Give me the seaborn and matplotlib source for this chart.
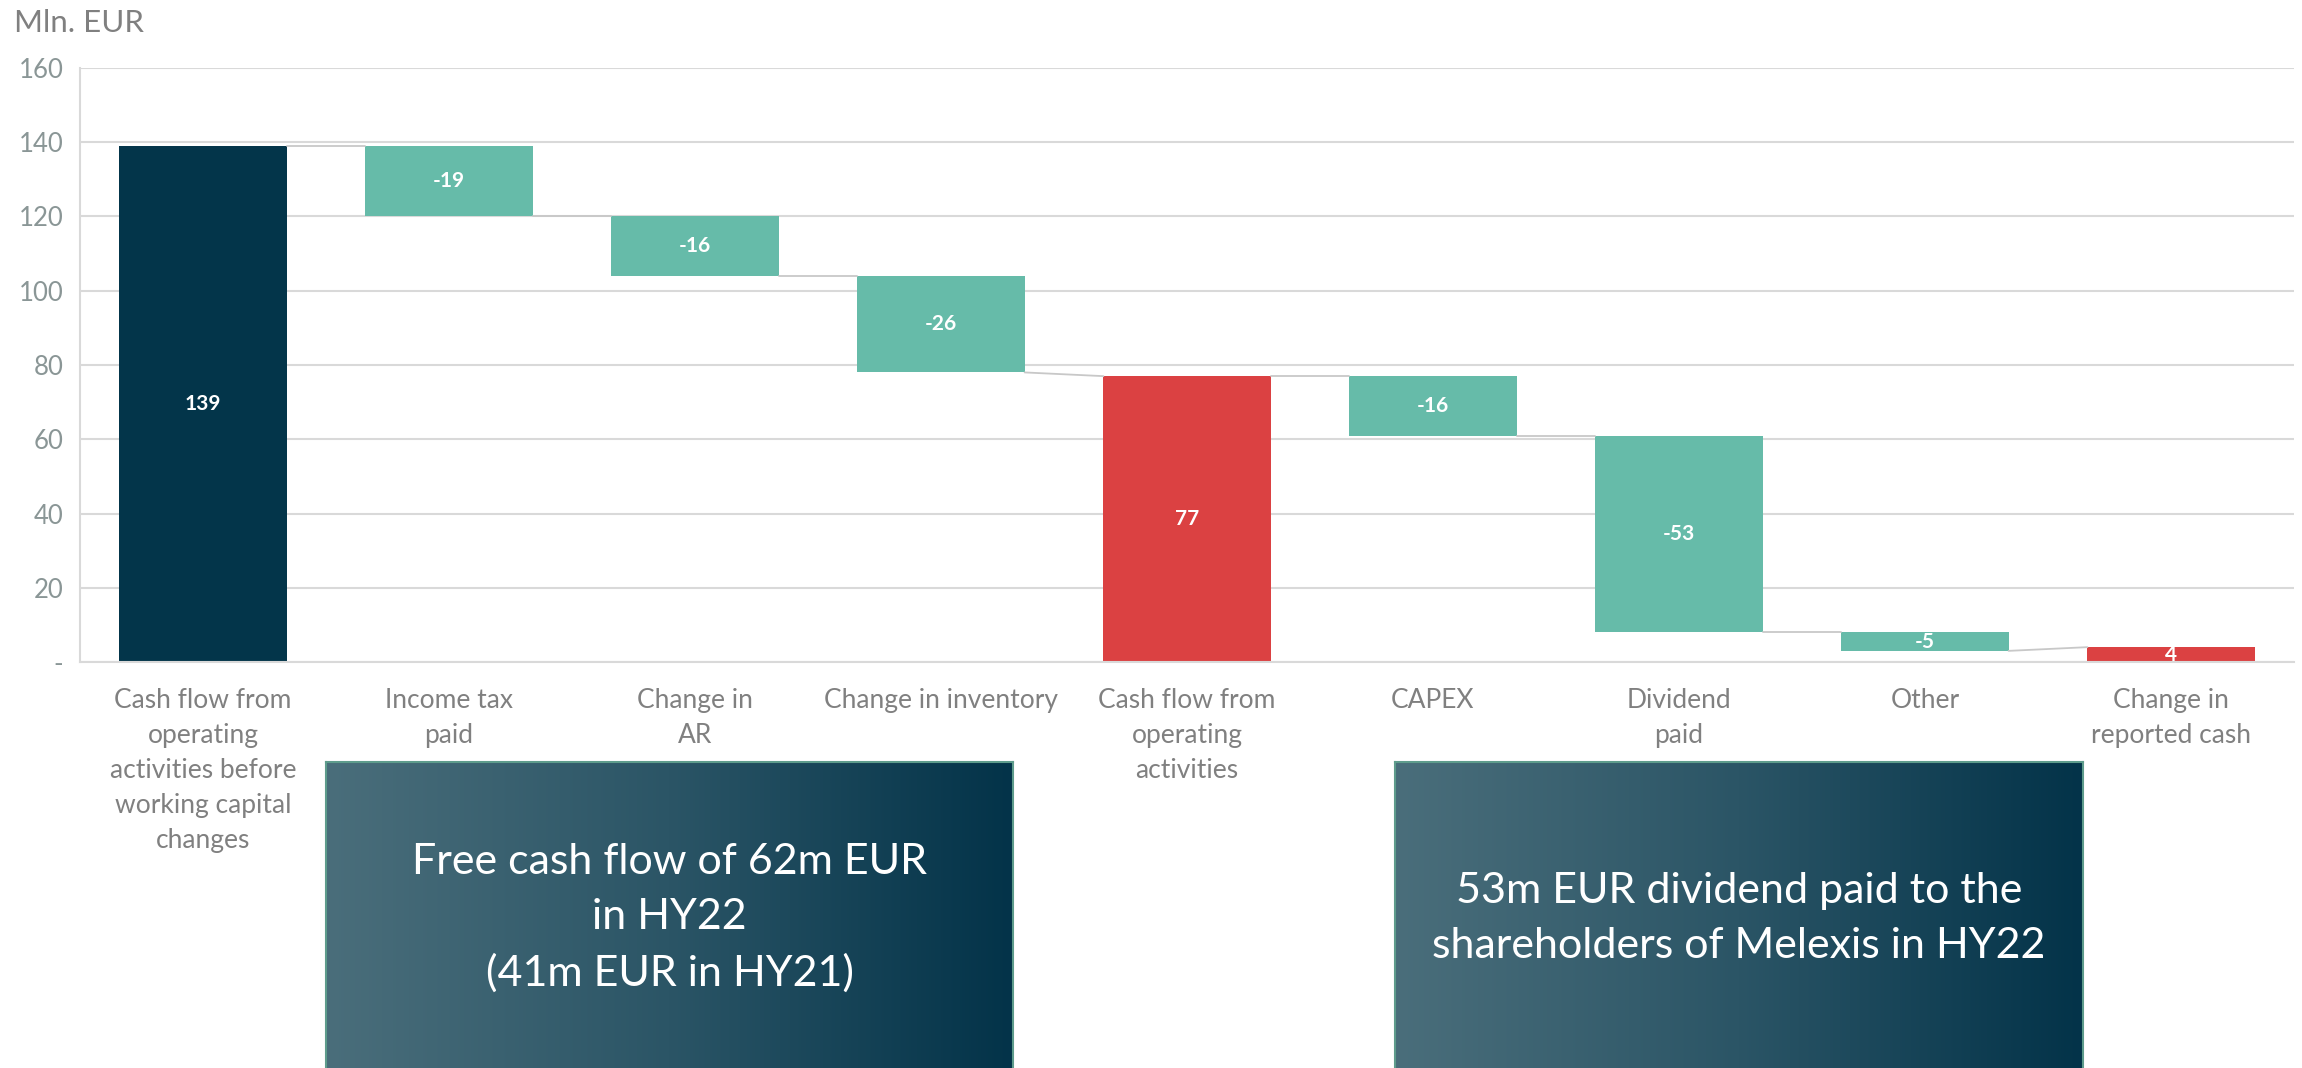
import numpy as np
import pandas as pd
import matplotlib
matplotlib.use("Agg")
import matplotlib.pyplot as plt
from matplotlib.colors import LinearSegmentedColormap
import seaborn as sns

# Cash-flow bridge, Mln. EUR
categories = [
    "Cash flow from\noperating\nactivities before\nworking capital\nchanges",
    "Income tax\npaid",
    "Change in\nAR",
    "Change in inventory",
    "Cash flow from\noperating\nactivities",
    "CAPEX",
    "Dividend\npaid",
    "Other",
    "Change in\nreported cash",
]
values = [139, -19, -16, -26, 77, -16, -53, -5, 4]
kinds = ["start", "step", "step", "step", "subtotal", "step", "step", "step", "subtotal"]
y_ticks = [0, 20, 40, 60, 80, 100, 120, 140, 160]
y_tick_labels = ["-", "20", "40", "60", "80", "100", "120", "140", "160"]

note_left = "Free cash flow of 62m EUR\nin HY22\n(41m EUR in HY21)"
note_right = "53m EUR dividend paid to the\nshareholders of Melexis in HY22"

kind_colors = {"start": "#03354A", "step": "#66BBA9", "subtotal": "#DB4142"}
grid_color = "#D9D9D9"
label_grey = "#808080"

sns.set_style("white")
plt.rcParams["font.family"] = ["Lato", "DejaVu Sans"]

# waterfall geometry: floating bars for steps, grounded bars for totals
bottoms, tops, starts, ends = [], [], [], []
level = 0
for v, k in zip(values, kinds):
    if k == "step":
        lo, hi = min(level, level + v), max(level, level + v)
        starts.append(level)
        level = level + v
    else:
        lo, hi = 0, v
        starts.append(v)
        level = v
    bottoms.append(lo)
    tops.append(hi)
    ends.append(level)

df = pd.DataFrame({
    "item": categories,
    "size": [t - b for t, b in zip(tops, bottoms)],
})
palette = [kind_colors[k] for k in kinds]

fig = plt.figure(figsize=(23.02, 10.68), dpi=100)
ax = fig.add_axes([80 / 2302, 1 - 662 / 1068, (2294 - 80) / 2302, (662 - 68) / 1068])

bar_w = 0.68
sns.barplot(data=df, x="item", y="size", hue="item", palette=palette,
            legend=False, width=bar_w, saturation=1, linewidth=0, ax=ax)

for patch, b in zip(ax.patches, bottoms):
    h = patch.get_height()
    patch.set_y(b)
    patch.set_height(h)

# connectors between consecutive bars
for i in range(len(values) - 1):
    ax.plot([i + bar_w / 2, i + 1 - bar_w / 2], [ends[i], starts[i + 1]],
            color="#C8C8C8", lw=1.3, zorder=1)

# value labels inside the bars
for i, (v, b, t) in enumerate(zip(values, bottoms, tops)):
    ax.text(i, (b + t) / 2, str(v), ha="center", va="center",
            color="white", fontsize=15, fontweight="bold", zorder=5)

ax.set_xlim(-0.5, len(values) - 0.5)
ax.set_ylim(0, 160)
ax.set_yticks(y_ticks)
ax.set_yticklabels(y_tick_labels)
ax.set_xlabel("")
ax.set_ylabel("")
ax.yaxis.grid(True, color=grid_color, lw=1.5)
ax.set_axisbelow(True)
for s in ["top", "right"]:
    ax.spines[s].set_visible(False)
for s in ["left", "bottom"]:
    ax.spines[s].set_color(grid_color)
    ax.spines[s].set_linewidth(1.5)
ax.tick_params(axis="y", length=0, pad=12, labelsize=18.5, labelcolor="#8A9696")
ax.tick_params(axis="x", length=0, pad=19, labelsize=19, labelcolor=label_grey)
for lab in ax.get_xticklabels():
    lab.set_linespacing(1.5)

fig.text(14 / 2302, 1 - 32 / 1068, "Mln. EUR", ha="left", va="baseline",
         fontsize=22.5, color=label_grey)

# gradient callout boxes below the chart
box_cmap = LinearSegmentedColormap.from_list("box", ["#4A6E7B", "#2B5566", "#033349"])
gradient = np.linspace(0, 1, 256).reshape(1, -1)


def callout(x0, x1, text):
    bax = fig.add_axes([x0 / 2302, 0, (x1 - x0) / 2302, (1068 - 762) / 1068])
    bax.imshow(gradient, cmap=box_cmap, aspect="auto", extent=[0, 1, 0, 1])
    bax.set_xlim(0, 1)
    bax.set_ylim(0, 1)
    bax.set_xticks([])
    bax.set_yticks([])
    for s in ["top", "left", "right"]:
        bax.spines[s].set_color("#5E9C8C")
        bax.spines[s].set_linewidth(1.5)
    bax.spines["bottom"].set_visible(False)
    bax.text(0.5, 0.49, text, ha="center", va="center", color="white",
             fontsize=31, linespacing=1.55, transform=bax.transAxes)


callout(326, 1013, note_left)
callout(1395, 2083, note_right)

fig.savefig("out.png", dpi=100)
